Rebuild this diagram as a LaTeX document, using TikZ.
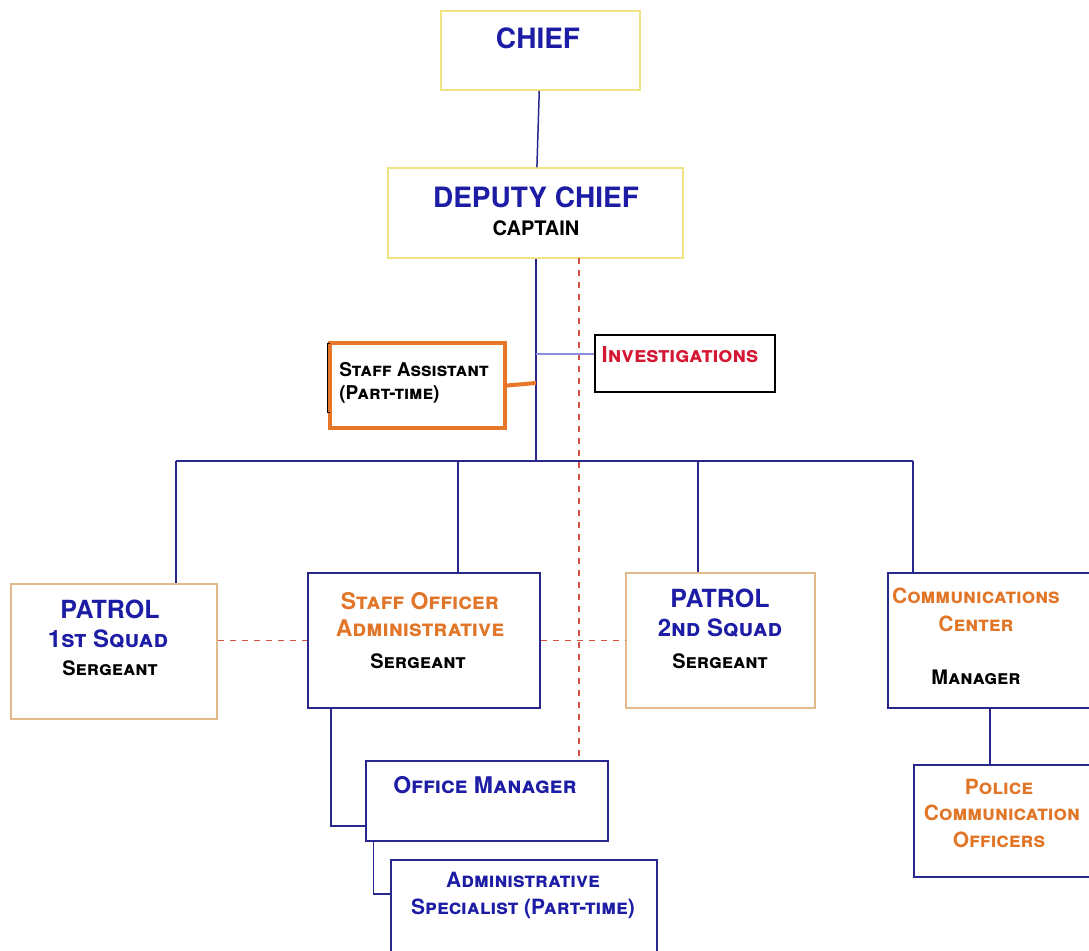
\documentclass[tikz,border=0pt]{standalone}
\usepackage{fontspec}
\setmainfont{TeX Gyre Heros}
\usepackage{tikz}
\usetikzlibrary{positioning}

\definecolor{titleblue}{RGB}{28,28,165}
\definecolor{orangetxt}{RGB}{226,118,40}
\definecolor{redtxt}{RGB}{212,24,52}
\definecolor{linenavy}{RGB}{40,40,140}
\definecolor{yellowbox}{RGB}{240,228,130}
\definecolor{tanbox}{RGB}{226,186,140}
\definecolor{lightline}{RGB}{140,140,220}
\definecolor{dashred}{RGB}{210,80,70}
\definecolor{thickorange}{RGB}{230,118,40}

\begin{document}
\begin{tikzpicture}[x=0.5pt,y=-0.5pt]
        \tikzstyle{box}=[rectangle,draw=linenavy,line width=0.75pt,
            fill=white,inner sep=0pt]
        \tikzstyle{link}=[draw=linenavy,line width=0.75pt]
        \tikzstyle{big}=[inner sep=0pt,text=titleblue,
            font=\bfseries\fontsize{14}{16}\selectfont]
        \tikzstyle{sqd}=[inner sep=0pt,text=titleblue,
            font=\bfseries\scshape\fontsize{12}{14}\selectfont]
        \tikzstyle{rank}=[inner sep=0pt,
            font=\bfseries\scshape\fontsize{10}{12}\selectfont]
        \tikzstyle{unit}=[inner sep=0pt,text=orangetxt,
            font=\bfseries\scshape\fontsize{10.5}{12}\selectfont]
        \tikzstyle{small}=[inner sep=0pt,
            font=\bfseries\scshape\fontsize{10.5}{12}\selectfont]

            \useasboundingbox (0,0) rectangle (1089,950);
            \clip (0,0) rectangle (1089,950);

            \node[box, draw=yellowbox, minimum width=99.5pt,
            minimum height=39.5pt] (chief) at (540.5,50.5) {};
            \node[big] (chiefT) at (538,38) {CHIEF};

            \node[box, draw=yellowbox, minimum width=147.5pt,
            minimum height=45pt] (deputy) at (535.5,213) {};
            \node[big] (deputyT) at (536,197) {DEPUTY CHIEF};
            \node[rank, font=\bfseries\fontsize{10}{12}\selectfont]
            (deputyS) at (536,228) {CAPTAIN};

            \draw[link] (chief) -- (deputy);

            \coordinate (trunk) at (536,461);
            \coordinate (tA) at (536,383);
            \coordinate (tI) at (536,354);
            \coordinate (dTop) at (579,258);
            \coordinate (dBot) at (579,761);

            \draw[link] (deputy.south -| trunk) -- (trunk);
            \draw[dashed, draw=dashred, line width=0.6pt] (dTop) -- (dBot);

            \node[box, draw=thickorange, line width=2pt, minimum
            width=87.5pt, minimum height=42.5pt] (assist) at (417.5,385.5) {};
            \node[small, font=\bfseries\scshape\fontsize{9.5}{11}\selectfont,
            anchor=west] (assistA) at (339,370) {Staff Assistant};
            \node[small, font=\bfseries\scshape\fontsize{9.5}{11}\selectfont,
            anchor=west] (assistB) at (339,394) {(Part-time)};
            \draw[line width=0.5pt] (330,343) -- (327,343) -- (327,412)
            -- (330,412);
            \draw[draw=thickorange, line width=2pt] (assist.east) -- (tA);

            \node[box, draw=black, line width=0.9pt, minimum width=90pt,
            minimum height=28.5pt] (invest) at (685,363.5) {};
            \node[small, text=redtxt, font=\bfseries\scshape\fontsize{11}{13}%
            \selectfont] (investT) at (680,355) {Investigations};
            \draw[draw=lightline, line width=0.75pt] (tI) --
            (tI -| invest.west);

            \node[box, draw=tanbox, minimum width=103pt,
            minimum height=67.5pt] (patrolA) at (114,651.5) {};
            \node[big, font=\bfseries\fontsize{12.5}{15}\selectfont]
            (patrolAT) at (110,609) {PATROL};
            \node[sqd] (patrolAQ) at (108,639) {1st Squad};
            \node[rank] (patrolAS) at (110,668) {Sergeant};

            \node[box, minimum width=116pt, minimum height=67.5pt]
            (staffoff) at (424,640.5) {};
            \node[unit, font=\bfseries\scshape\fontsize{11.5}{13}\selectfont]
            (staffoffT) at (420,601) {Staff Officer};
            \node[unit, font=\bfseries\scshape\fontsize{11.5}{13}\selectfont]
            (staffoffU) at (420,628) {Administrative};
            \node[rank] (staffoffS) at (418,661) {Sergeant};

            \node[box, draw=tanbox, minimum width=94.5pt,
            minimum height=67.5pt] (patrolB) at (720.5,640.5) {};
            \node[big, font=\bfseries\fontsize{12.5}{15}\selectfont]
            (patrolBT) at (720,598) {PATROL};
            \node[sqd] (patrolBQ) at (720,628) {2nd Squad};
            \node[rank] (patrolBS) at (720,661) {Sergeant};

            \node[box, minimum width=102pt, minimum height=67.5pt]
            (comm) at (990,640.5) {};
            \node[unit] (commT) at (976,596) {Communications};
            \node[unit] (commU) at (976,624) {Center};
            \node[rank] (commS) at (976,677) {Manager};

            \foreach \n/\x in {patrolA/176, staffoff/458, patrolB/698,
            comm/913}
            {
                \coordinate (b\n) at (\x,461);
                \draw[link] (b\n) -- (b\n |- \n.north);
            }
            \draw[link] (bpatrolA) -- (bcomm);

            \draw[dashed, draw=dashred, line width=0.6pt]
            (patrolA.east |- staffoff.west) -- (staffoff.west);
            \draw[dashed, draw=dashred, line width=0.6pt]
            (staffoff.east) -- (patrolB.west);

            \node[box, minimum width=89pt, minimum height=56pt]
            (police) at (1003,821) {};
            \node[unit] (policeT) at (999,787) {Police};
            \node[unit] (policeU) at (1002,813) {Communication};
            \node[unit] (policeV) at (999,840) {Officers};
            \draw[link] (comm.south) -- (comm.south |- police.north);

            \node[box, minimum width=121pt, minimum height=40pt]
            (office) at (487,801) {};
            \node[small, text=titleblue, font=\bfseries\scshape%
            \fontsize{11.5}{13}\selectfont] (officeT) at (485,785)
            {Office Manager};
            \draw[link, line width=1.1pt] ([xshift=12pt]staffoff.south west)
            |- ([yshift=-12.5pt]office.west);

            \node[box, minimum width=133pt, minimum height=46pt]
            (admin) at (524,906) {};
            \node[small, text=titleblue] (adminT) at (523,880)
            {Administrative};
            \node[small, text=titleblue] (adminU) at (523,909)
            {Specialist (Part-time)};
            \draw[link] ([xshift=4pt]office.south west)
            |- ([yshift=6pt]admin.west);
    \end{tikzpicture}
\end{document}
